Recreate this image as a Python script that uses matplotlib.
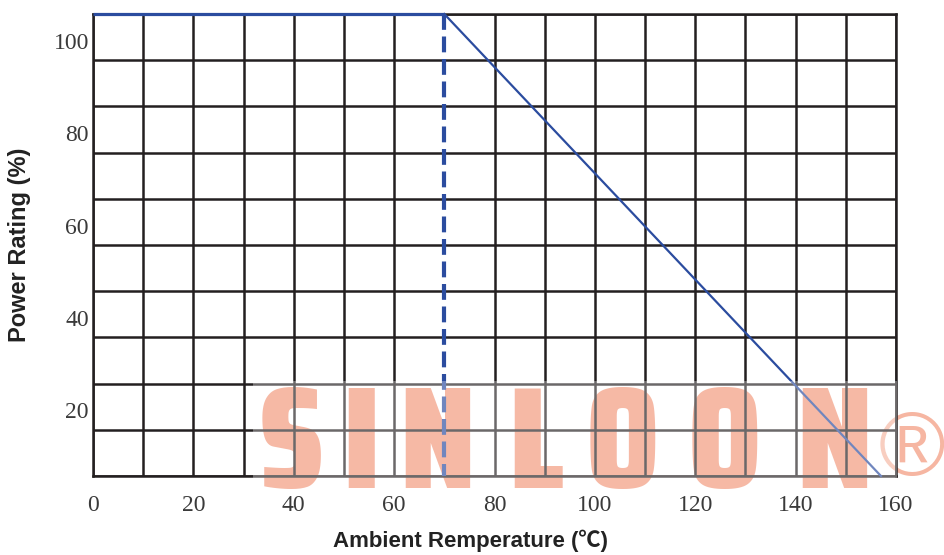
import matplotlib
matplotlib.use('Agg')
import matplotlib.pyplot as plt
import numpy as np
from matplotlib.patches import Rectangle

plt.rcParams['font.family'] = 'Liberation Serif'

# 降额曲线数据
temp = [0, 70, 157]
power = [100, 100, 0]
knee_temp = 70

x_ticks = [0, 20, 40, 60, 80, 100, 120, 140, 160]
y_tick_labels = [20, 40, 60, 80, 100]
label_shift = -5.8  # 原图纵轴数字比网格线偏下

W, H = 945, 555
fig = plt.figure(figsize=(W / 100, H / 100), dpi=100)
ax = fig.add_axes([93 / W, 1 - 476 / H, 803 / W, 462 / H])

blue = '#2B4C9F'
grid_c = '#231F20'

# 曲线
ax.plot(temp[:2], power[:2], color=blue, lw=2.3, solid_capstyle='butt', zorder=2.6, clip_on=False)
ax.plot(temp[1:], power[1:], color=blue, lw=1.6, zorder=2.6, clip_on=False)
ax.plot([knee_temp, knee_temp], [power[1], 0], color=blue, lw=3, dashes=(3.8, 1.6), zorder=2.6)

# 网格 (70℃处只有虚线)
ax.set_xticks(x_ticks)
ax.set_xticks([t for t in range(10, 160, 20) if t != knee_temp], minor=True)
ax.set_yticks([v + label_shift for v in y_tick_labels])
ax.set_yticklabels([str(v) for v in y_tick_labels])
ax.set_yticks(np.arange(0, 101, 10), minor=True)
ax.set_axisbelow(True)
ax.grid(True, axis='x', which='both', color=grid_c, lw=1.8)
ax.grid(True, axis='y', which='minor', color=grid_c, lw=1.8)
ax.grid(False, axis='y', which='major')
for s in ax.spines.values():
    s.set_color(grid_c)
    s.set_linewidth(1.8)

ax.tick_params(which='both', length=0, labelsize=17, labelcolor='#3a3a3a')
ax.tick_params(axis='x', pad=14)
ax.tick_params(axis='y', pad=3)

# 坐标轴标题
ax.set_xlabel('Ambient Remperature (℃)', fontsize=16, fontweight='bold',
              family=['Liberation Sans', 'Noto Sans CJK SC'], color='#222222')
ax.xaxis.set_label_coords((471 - 93) / 803, (476 - 541) / 462)
ax.xaxis.label.set_va('center')
ax.set_ylabel('Power Rating (%)', fontsize=17, fontweight='bold',
              family=['Liberation Sans'], color='#222222')
ax.yaxis.set_label_coords((20 - 93) / 803, 0.5)
ax.yaxis.label.set_va('center')

# 水印
wm_text = 'SINLOON'
wm_x = [291, 361, 437, 536, 622, 724, 834]
for ch, cx in zip(wm_text, wm_x):
    ax.text(cx / W, 1 - 488 / H, ch, transform=fig.transFigure, ha='center', va='baseline',
            fontsize=104, fontweight=900, family=['Saira Condensed', 'Anton', 'Liberation Sans'],
            color='#F2977A', zorder=0.2, clip_on=False)
ax.text(912 / W, 1 - 452 / H, '®', transform=fig.transFigure, ha='center', va='center',
        fontsize=65, family=['Liberation Sans'], color='#F6B6A2', zorder=0.2, clip_on=False)
veil = Rectangle((253 / W, 1 - 492 / H), (897 - 253) / W, (492 - 381) / H, transform=fig.transFigure,
                 facecolor='white', edgecolor='none', alpha=0.33, zorder=3, clip_on=False)
ax.add_patch(veil)

ax.set_xlim(0, 160)
ax.set_ylim(0, 100)

fig.savefig('out.png', dpi=100)
